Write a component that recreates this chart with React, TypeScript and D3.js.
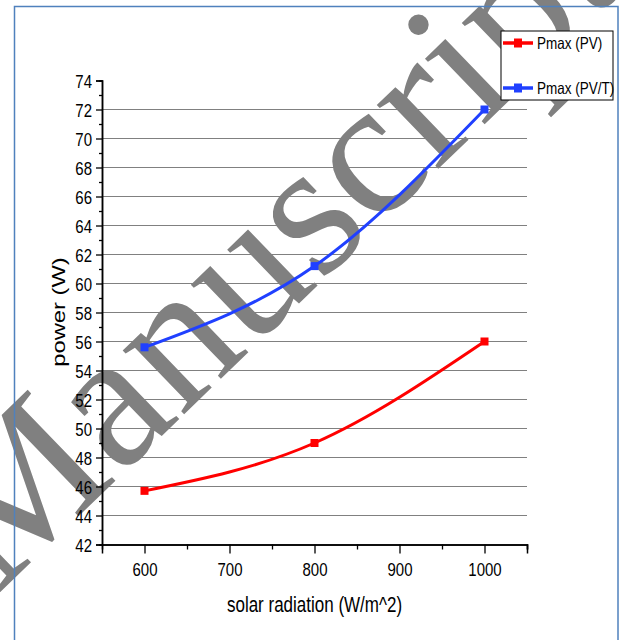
import React, { useEffect, useRef } from 'react';
import * as d3 from 'd3';

const radiation = [600, 800, 1000];
const pmaxPV = [45.7, 49.0, 56.0];
const pmaxPVT = [55.6, 61.2, 72.0];
const seriesNames = ['Pmax (PV)', 'Pmax (PV/T)'];
const xTickValues = [600, 700, 800, 900, 1000];
const xMinorTicks = [650, 750, 850, 950, 1050];
const yTickValues = [42, 44, 46, 48, 50, 52, 54, 56, 58, 60, 62, 64, 66, 68, 70, 72, 74];
const yMinorTicks = [43, 45, 47, 49, 51, 53, 55, 57, 59, 61, 63, 65, 67, 69, 71, 73];
const gridValues = [44, 46, 48, 50, 52, 54, 56, 58, 60, 62, 64, 66, 68, 70, 72];

const W = 619;
const H = 640;
const FONT = '"Liberation Sans", Arial, sans-serif';
// the source picture is stretched vertically, so texts get a y-scale
const STRETCH = 1.25;

const App: React.FC = () => {
  const svgRef = useRef<SVGSVGElement>(null);

  useEffect(() => {
    if (!svgRef.current) return;
    const svg = d3.select(svgRef.current);
    svg.selectAll('*').remove();

    const x = d3.scaleLinear().domain([550, 1050]).range([102, 527]);
    const y = d3.scaleLinear().domain([42, 74]).range([544.5, 80.5]);

    svg.append('rect').attr('width', W).attr('height', H).attr('fill', 'white');

    // horizontal grid
    svg.append('g')
      .selectAll('line')
      .data(gridValues)
      .enter()
      .append('line')
      .attr('x1', x(550)).attr('x2', x(1050))
      .attr('y1', d => y(d)).attr('y2', d => y(d))
      .attr('stroke', '#808080')
      .attr('stroke-width', 1);

    // watermark
    svg.append('text')
      .attr('transform', 'translate(-4,596) rotate(-44)')
      .attr('font-family', '"Liberation Serif", "Times New Roman", serif')
      .attr('font-size', 193)
      .attr('fill', '#808080')
      .text('Manuscript');

    // frame
    svg.append('rect')
      .attr('x', 14.5).attr('y', 6.5)
      .attr('width', 603.5).attr('height', 660)
      .attr('fill', 'none')
      .attr('stroke', '#4f81bd')
      .attr('stroke-width', 1.5);

    // axes
    const xAxis = svg.append('g').attr('transform', `translate(0,${y(42)})`);
    xAxis.call(d3.axisBottom(x).tickValues(xTickValues).tickSize(9).tickFormat(d3.format('d')));
    xAxis.append('g').call(d3.axisBottom(x).tickValues(xMinorTicks).tickSize(5).tickFormat(() => ''));
    xAxis.selectAll('.tick text')
      .attr('y', null).attr('dy', null)
      .attr('transform', `translate(0,31) scale(1,${STRETCH})`);

    const yAxis = svg.append('g').attr('transform', `translate(${x(550)},0)`);
    yAxis.call(d3.axisLeft(y).tickValues(yTickValues).tickSize(6).tickFormat(d3.format('d')));
    yAxis.append('g').call(d3.axisLeft(y).tickValues(yMinorTicks).tickSize(3).tickFormat(() => ''));
    yAxis.selectAll('.tick text')
      .attr('x', null).attr('dy', null)
      .attr('transform', `translate(-10,6.7) scale(1,${STRETCH})`);

    svg.selectAll('.domain').attr('stroke', '#000').attr('stroke-width', 1.5);
    svg.selectAll('.tick line').attr('stroke', '#000').attr('stroke-width', 1.3);
    svg.selectAll('.tick text')
      .attr('font-family', FONT)
      .attr('font-size', 15)
      .attr('fill', '#000');

    // axis titles
    svg.append('text')
      .attr('transform', `translate(${x(800)},611.5) scale(1,${STRETCH})`)
      .attr('text-anchor', 'middle')
      .attr('font-family', FONT)
      .attr('font-size', 17)
      .text('solar radiation (W/m^2)');

    svg.append('text')
      .attr('transform', `translate(65,312) scale(1,${STRETCH}) rotate(-90)`)
      .attr('text-anchor', 'middle')
      .attr('font-family', FONT)
      .attr('font-size', 19)
      .text('power (W)');

    // series
    const series = [
      { name: seriesNames[0], values: pmaxPV, color: '#ff0000' },
      { name: seriesNames[1], values: pmaxPVT, color: '#2040ff' },
    ];
    const line = d3.line<number>()
      .x((_, i) => x(radiation[i]))
      .y(d => y(d))
      .curve(d3.curveNatural);

    series.forEach(s => {
      svg.append('path')
        .attr('d', line(s.values))
        .attr('fill', 'none')
        .attr('stroke', s.color)
        .attr('stroke-width', 3);
      svg.append('g')
        .selectAll('rect')
        .data(s.values)
        .enter()
        .append('rect')
        .attr('x', (_, i) => x(radiation[i]) - 4)
        .attr('y', d => y(d) - 4)
        .attr('width', 8).attr('height', 8)
        .attr('fill', s.color);
    });

    // legend
    const lg = svg.append('g').attr('transform', 'translate(501,31)');
    lg.append('rect')
      .attr('width', 112).attr('height', 69)
      .attr('fill', 'white')
      .attr('stroke', '#000')
      .attr('stroke-width', 1);
    series.forEach((s, i) => {
      const ly = 12 + i * 45;
      lg.append('line')
        .attr('x1', 2).attr('x2', 32)
        .attr('y1', ly).attr('y2', ly)
        .attr('stroke', s.color)
        .attr('stroke-width', 3.5);
      lg.append('rect')
        .attr('x', 13).attr('y', ly - 4.5)
        .attr('width', 8).attr('height', 9)
        .attr('fill', s.color);
      lg.append('text')
        .attr('transform', `translate(36,${ly + 6}) scale(1,${STRETCH})`)
        .attr('font-family', FONT)
        .attr('font-size', 13.5)
        .text(s.name);
    });
  }, []);

  return (
    <div style={{ position: 'absolute', left: 0, top: 0 }}>
      <svg ref={svgRef} width={W} height={H} style={{ display: 'block' }} />
    </div>
  );
};

export default App;
